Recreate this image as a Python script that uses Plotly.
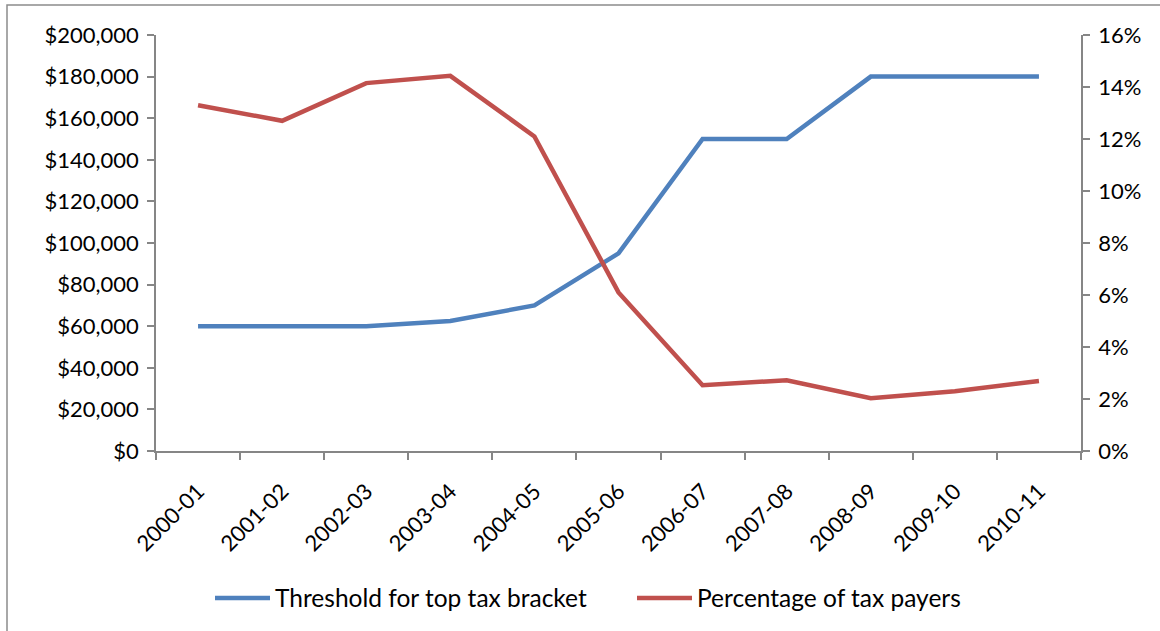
import plotly.graph_objects as go

years = ["2000-01", "2001-02", "2002-03", "2003-04", "2004-05", "2005-06",
         "2006-07", "2007-08", "2008-09", "2009-10", "2010-11"]
threshold = [60000, 60000, 60000, 62500, 70000, 95000, 150000, 150000, 180000, 180000, 180000]
pct_payers = [0.133, 0.127, 0.1415, 0.1443, 0.121, 0.061, 0.0253, 0.0272, 0.0203, 0.023, 0.0269]

FONT = "Lato"
AX = "#868686"

fig = go.Figure()
fig.add_trace(go.Scatter(x=years, y=threshold, mode="lines", name="Threshold for top tax bracket",
                         line=dict(color="#4F81BD", width=4.5), yaxis="y"))
fig.add_trace(go.Scatter(x=years, y=pct_payers, mode="lines", name="Percentage of tax payers",
                         line=dict(color="#C0504D", width=4.5), yaxis="y2"))

fig.update_layout(
    width=1160, height=631,
    margin=dict(l=156, r=79, t=35, b=179),
    paper_bgcolor="white", plot_bgcolor="white",
    font=dict(family=FONT, size=22, color="black"),
    showlegend=True,
    legend=dict(orientation="h", x=(210 - 156) / 925, xanchor="left", y=-0.35, yanchor="middle",
                font=dict(family=FONT, size=24.5), itemwidth=55, tracegroupgap=0,
                entrywidth=352, entrywidthmode="pixels"),
    xaxis=dict(type="category", range=[-0.5, 10.5], showgrid=False, showline=True,
               linecolor=AX, linewidth=1.5,
               ticks="outside", ticklen=7, tickcolor=AX, tickwidth=1.5, tickson="boundaries",
               tickangle=-45, tickfont=dict(size=22), ticklabelstandoff=17,
               mirror=False, zeroline=False),
    yaxis=dict(range=[0, 200000], dtick=20000, tickprefix="$", tickformat=",",
               showgrid=False, showline=True, linecolor=AX, linewidth=1.5,
               ticks="outside", ticklen=7, tickcolor=AX, tickwidth=1.5, zeroline=False,
               tickfont=dict(size=22), ticklabelstandoff=4),
    yaxis2=dict(range=[0, 0.16], dtick=0.02, tickformat=".0%", overlaying="y", side="right",
                showgrid=False, showline=True, linecolor=AX, linewidth=1.5,
                ticks="outside", ticklen=7, tickcolor=AX, tickwidth=1.5, zeroline=False,
                tickfont=dict(size=22), ticklabelstandoff=4),
    shapes=[dict(type="rect", xref="paper", yref="paper",
                 x0=(7 - 156) / 925, x1=(1170 - 156) / 925,
                 y0=(452 - 650) / 417, y1=(452 - 5) / 417,
                 line=dict(color="#8c8c8c", width=1.5), fillcolor="rgba(0,0,0,0)", layer="below")],
)

fig.write_html("out.html")
